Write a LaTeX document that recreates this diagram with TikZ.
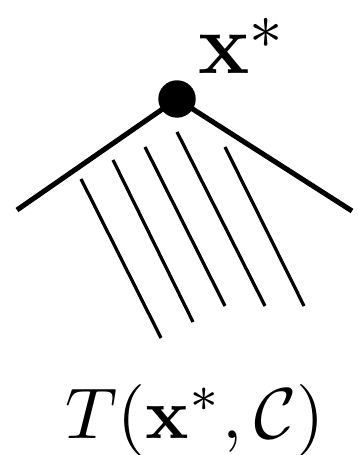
\documentclass[tikz,border=0pt]{standalone}
\usepackage{amsmath, amssymb}
\usepackage{tikz}

\begin{document}
\begin{tikzpicture}[x=0.1389pt, y=-0.1389pt,
        cone/.style={line width=0.7pt},
        hatch/.style={line width=0.45pt}]
        \useasboundingbox (0,0) rectangle (357,455);

        % Apex point with its two cone edges
        \coordinate (L) at (17,210);
        \coordinate (R) at (352,211);
        \node [circle, fill, inner sep=0pt, minimum size=5.2pt] (xstar) at (177,99) {};
        \draw [cone] (L) -- (xstar.center) -- (R);
        \node [anchor=base west, inner sep=0pt, font=\fontsize{12.2}{15}\selectfont] (xlab) at (197,74) {$\mathbf{x}^{\raisebox{-0.8pt}{$\scriptstyle *$}}$};

        % Hatching below the cone
        \foreach \a/\b/\c/\d in {81/179/161/338, 113/160/193/322, 145/147/225/306,
                                 177/132/265/306, 225/147/304/306}
            \draw [hatch] (\a,\b) -- (\c,\d);

        % Cone name
        \node [anchor=base, inner sep=0pt] (tcone) at (195,438) {$T(\mathbf{x}^*,\mathcal{C})$};
    \end{tikzpicture}
\end{document}
